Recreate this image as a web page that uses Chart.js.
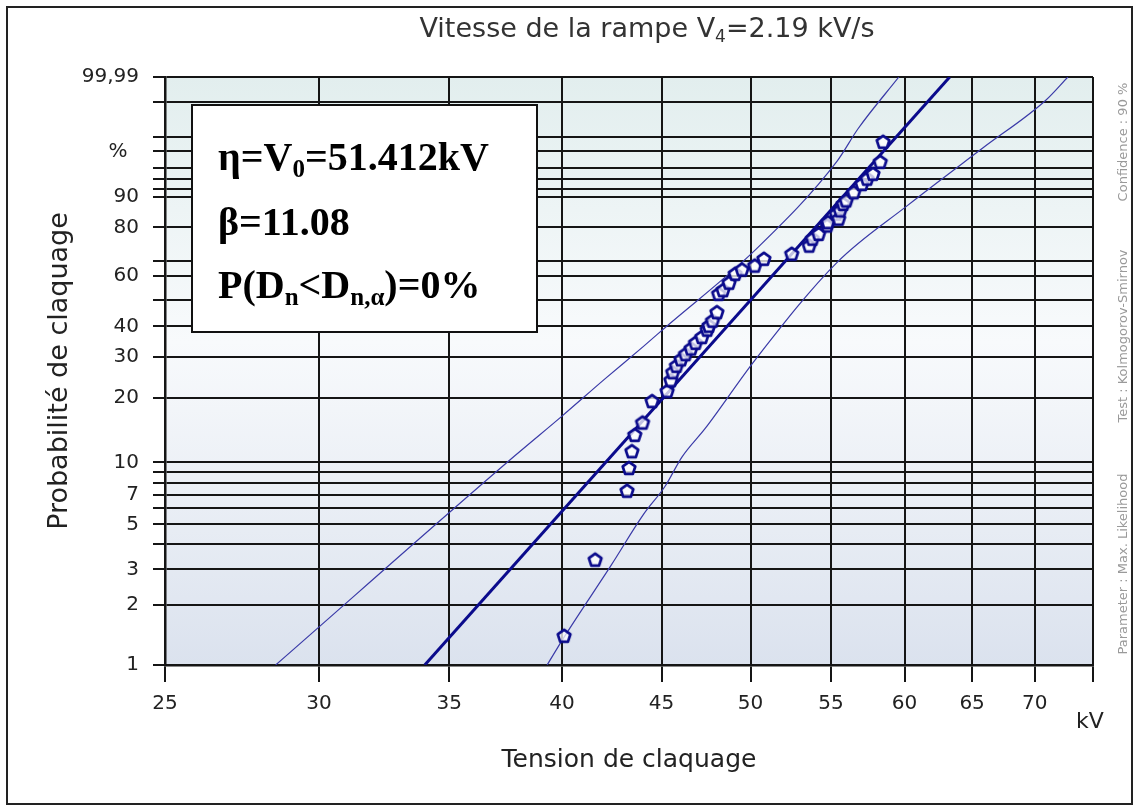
<!DOCTYPE html>
<html>
<head>
<meta charset="utf-8">
<script src="https://cdn.jsdelivr.net/npm/chart.js@4.4.1/dist/chart.umd.min.js"></script>
<style>
  html, body { margin: 0; padding: 0; background: #fff; }
</style>
</head>
<body>
<canvas id="weibull" width="1136" height="807"></canvas>
<script>
// breakdown voltage (kV) and cumulative probability (%) of each test
const voltages = [40.1, 41.6, 43.2, 43.3, 43.45, 43.6, 44.0, 44.5, 45.3, 45.5,
                  45.6, 45.8, 46.05, 46.3, 46.6, 46.85, 47.2, 47.5, 47.6, 47.8,
                  48.05, 48.15, 48.4, 48.75, 49.1, 49.5, 50.25, 50.8, 52.5, 53.6,
                  53.8, 54.2, 54.75, 54.8, 55.35, 55.5, 55.6, 55.8, 56.0, 56.5,
                  57.05, 57.4, 57.8, 58.3, 58.5];
const probs = [1.4, 3.35, 7.3, 9.4, 11.3, 13.5, 15.4, 19.3, 21.4, 23.9,
               25.9, 27.6, 29.4, 30.9, 32.6, 34.4, 36.3, 38.8, 40.2, 42.0,
               45.2, 52.5, 54.0, 57.1, 60.9, 62.7, 64.4, 67.3, 69.4, 72.8,
               75.6, 77.5, 80.7, 81.9, 84.8, 83.1, 85.9, 87.9, 88.9, 91.1,
               93.0, 94.1, 95.0, 96.8, 98.7];

// fitted Weibull line
const fitKv = [34.0, 63.3];
const fitPct = [1, 99.99];

// 90 % confidence bounds
const upperKv = [28.5, 37.8, 40.0, 42.1, 44.05, 45.2, 50.35, 55.4, 56.8, 59.6];
const upperPct = [1, 10.7, 16.5, 24.3, 33.3, 39.6, 71.5, 96.9, 99.37, 99.99];
const lowerKv = [39.3, 40.1, 42.4, 44.05, 45.2, 46.1, 47.4, 50.3, 55.4, 60.2, 65.9, 70.9, 72.8];
const lowerPct = [1, 1.38, 3.15, 5.6, 7.7, 10.6, 14.5, 29.4, 65.8, 87.4, 98.3, 99.91, 99.99];

// axes
const xTicks = [25, 30, 35, 40, 45, 50, 55, 60, 65, 70, 75];
const yGrid = [1, 2, 3, 4, 5, 6, 7, 8, 9, 10, 20, 30, 40, 50, 60, 66.5, 80, 90, 92, 94, 96, 98, 99, 99.9, 99.99];
const yLabels = ['1', '2', '3', '', '5', '', '7', '', '', '10', '20', '30', '40', '', '60', '', '80', '90', '', '', '', '', '', '', '99,99'];

// Weibull probability paper: y = ln(-ln(1-p))
const weib = p => Math.log(-Math.log(1 - p / 100));
const pts = (xs, ps) => xs.map((v, i) => ({ x: v, y: weib(ps[i]) }));

const navy = '#0b0b8c';
const sans = '"DejaVu Sans", sans-serif';
const serif = '"Liberation Serif", "Times New Roman", serif';

function pentagon() {
  const c = document.createElement('canvas');
  c.width = 18; c.height = 18;
  const g = c.getContext('2d');
  g.beginPath();
  for (let i = 0; i < 5; i++) {
    const a = -Math.PI / 2 + i * 2 * Math.PI / 5;
    const px = 9 + 6.6 * Math.cos(a), py = 9.5 + 6.6 * Math.sin(a);
    if (i) g.lineTo(px, py); else g.moveTo(px, py);
  }
  g.closePath();
  g.fillStyle = 'rgba(255,255,255,0.75)';
  g.fill();
  g.lineJoin = 'round';
  g.lineWidth = 2.7;
  g.strokeStyle = navy;
  g.stroke();
  return c;
}

// text pieces with optional subscripts
function drawParts(ctx, parts, x, y, size, family, weight, align) {
  const big = weight + ' ' + size + 'px ' + family;
  const small = weight + ' ' + Math.round(size * 0.62) + 'px ' + family;
  let w = 0;
  parts.forEach(p => { ctx.font = p.sub ? small : big; w += ctx.measureText(p.t).width; });
  let cx = align === 'center' ? x - w / 2 : x;
  ctx.textAlign = 'left';
  ctx.textBaseline = 'alphabetic';
  parts.forEach(p => {
    ctx.font = p.sub ? small : big;
    ctx.fillText(p.t, cx, p.sub ? y + size * 0.18 : y);
    cx += ctx.measureText(p.t).width;
  });
}

const paperPlugin = {
  id: 'paper',
  beforeDraw(chart) {
    const { ctx, chartArea: a } = chart;
    const g = ctx.createLinearGradient(0, a.top, 0, a.bottom);
    g.addColorStop(0, '#e2eeee');
    g.addColorStop(0.45, '#f8fafc');
    g.addColorStop(1, '#dbe2ee');
    ctx.save();
    ctx.fillStyle = g;
    ctx.fillRect(a.left, a.top, a.right - a.left, a.bottom - a.top);
    ctx.restore();
  },
  afterDraw(chart) {
    const ctx = chart.ctx;
    ctx.save();
    // outer frame
    ctx.strokeStyle = '#222';
    ctx.lineWidth = 2;
    ctx.strokeRect(7, 7, 1125, 797);

    // title
    ctx.fillStyle = '#333';
    drawParts(ctx, [{ t: 'Vitesse de la rampe V' }, { t: '4', sub: true }, { t: '=2.19 kV/s' }],
      647, 37, 27, sans, 'normal', 'center');

    // unit labels
    ctx.fillStyle = '#222';
    ctx.font = '20px ' + sans;
    ctx.textAlign = 'center';
    ctx.textBaseline = 'middle';
    ctx.fillText('%', 118, 152);
    ctx.font = '22px ' + sans;
    ctx.fillText('kV', 1090, 722);

    // side notes
    ctx.fillStyle = '#9a9a9a';
    ctx.font = '13px ' + sans;
    ctx.translate(1124, 0);
    ctx.rotate(-Math.PI / 2);
    ctx.fillText('Parameter : Max. Likelihood', -564, 0);
    ctx.fillText('Test : Kolmogorov-Smirnov', -336, 0);
    ctx.fillText('Confidence : 90 %', -142, 0);
    ctx.setTransform(1, 0, 0, 1, 0, 0);

    // parameter box
    ctx.fillStyle = '#fff';
    ctx.fillRect(192, 105, 345, 227);
    ctx.strokeStyle = '#111';
    ctx.lineWidth = 2;
    ctx.strokeRect(192, 105, 345, 227);
    ctx.fillStyle = '#000';
    drawParts(ctx, [{ t: 'η=V' }, { t: '0', sub: true }, { t: '=51.412kV' }], 218, 170, 40, serif, 'bold', 'left');
    drawParts(ctx, [{ t: 'β=11.08' }], 218, 235, 40, serif, 'bold', 'left');
    drawParts(ctx, [{ t: 'P(D' }, { t: 'n', sub: true }, { t: '<D' }, { t: 'n,α', sub: true }, { t: ')=0%' }],
      218, 298, 40, serif, 'bold', 'left');
    ctx.restore();
  }
};

const gridColor = '#151515';

new Chart(document.getElementById('weibull'), {
  type: 'scatter',
  data: {
    datasets: [
      {
        data: pts(voltages, probs),
        pointStyle: pentagon(),
        pointRadius: 8,
        showLine: false
      },
      {
        data: pts(fitKv, fitPct),
        showLine: true,
        borderColor: navy,
        borderWidth: 3,
        pointRadius: 0
      },
      {
        data: pts(upperKv, upperPct),
        showLine: true,
        borderColor: '#3a3aa8',
        borderWidth: 1.2,
        pointRadius: 0,
        cubicInterpolationMode: 'monotone'
      },
      {
        data: pts(lowerKv, lowerPct),
        showLine: true,
        borderColor: '#3a3aa8',
        borderWidth: 1.2,
        pointRadius: 0,
        cubicInterpolationMode: 'monotone'
      }
    ]
  },
  options: {
    responsive: false,
    animation: false,
    devicePixelRatio: 1,
    layout: { padding: { left: 0, top: 77, right: 43, bottom: 0 } },
    plugins: {
      legend: { display: false },
      tooltip: { enabled: false }
    },
    scales: {
      x: {
        type: 'logarithmic',
        min: 25,
        max: 75,
        afterBuildTicks: s => { s.ticks = xTicks.map(v => ({ value: v })); },
        afterFit: s => { s.height = 142; },
        border: { display: true, color: gridColor, width: 2.5 },
        grid: { color: gridColor, lineWidth: 2, tickLength: 17, tickColor: gridColor },
        ticks: {
          autoSkip: false,
          maxRotation: 0,
          padding: 10,
          color: '#222',
          font: { family: sans, size: 20 },
          callback: v => (v === 75 ? '' : String(v))
        },
        title: {
          display: true,
          text: 'Tension de claquage',
          color: '#222',
          font: { family: sans, size: 25 },
          padding: { top: 0, bottom: 32 }
        }
      },
      y: {
        type: 'linear',
        min: weib(1),
        max: weib(99.99),
        afterBuildTicks: s => { s.ticks = yGrid.map(p => ({ value: weib(p) })); },
        afterFit: s => { s.width = 165; },
        border: { display: true, color: gridColor, width: 2.5 },
        grid: { color: gridColor, lineWidth: 2, tickLength: 12, tickColor: gridColor },
        ticks: {
          autoSkip: false,
          padding: 14,
          color: '#222',
          font: { family: sans, size: 20 },
          callback: (v, i) => yLabels[i]
        },
        title: {
          display: true,
          text: 'Probabilité de claquage',
          color: '#222',
          font: { family: sans, size: 27 },
          padding: { top: 44, bottom: 0 }
        }
      }
    }
  },
  plugins: [paperPlugin]
});
</script>
</body>
</html>
